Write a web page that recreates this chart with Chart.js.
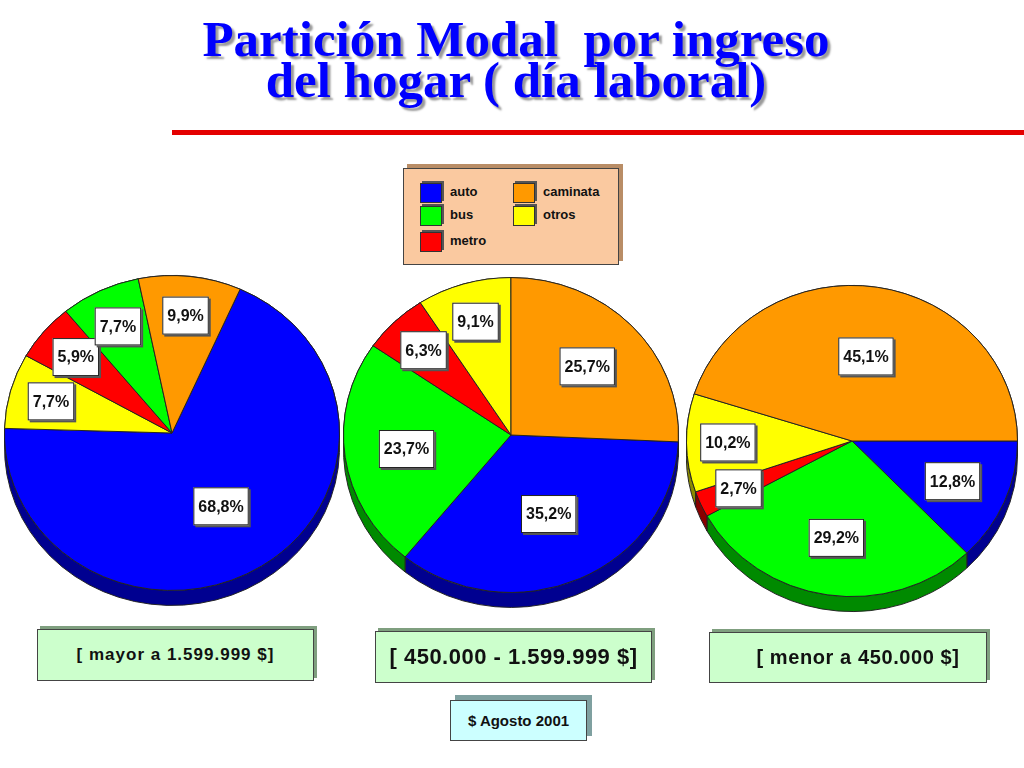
<!DOCTYPE html>
<html>
<head>
<meta charset="utf-8">
<script src="https://cdn.jsdelivr.net/npm/chart.js@4/dist/chart.umd.min.js"></script>
<style>
  body { margin: 0; background: #fff; }
  #page { position: relative; width: 1024px; height: 768px; overflow: hidden; font-family: "Comic Sans MS", "Liberation Sans", sans-serif; }
  .title { position: absolute; left: 0; width: 1032px; text-align: center; font-family: "Liberation Serif", serif; font-weight: bold;
           font-size: 51px; color: #0000ff; text-shadow: 3px 3px 2px #9a9a9a; white-space: pre; line-height: 41px; }
  #rule { position: absolute; left: 172px; top: 130px; width: 852px; height: 5px; background: #e40000; }
  .pie { position: absolute; }
  #legend { position: absolute; left: 403px; top: 168px; width: 214px; height: 95px; background: #fac9a0;
            border: 1px solid #444; box-shadow: 4px -4px 0 #b98d66; }
  .item { position: absolute; font-weight: bold; font-size: 13px; color: #111; }
  .item span.sw { position: absolute; left: 0; top: 0; width: 20px; height: 18px; border: 1px solid #333; box-shadow: 2px -2px 0 #555; }
  .item span.tx { position: absolute; left: 30px; top: 1px; }
  .group { position: absolute; background: #ccffcc; border: 1px solid #444; box-shadow: 3px -3px 0 #7f9f7f; box-sizing: border-box;
           display: flex; align-items: center; justify-content: center; font-weight: bold; color: #111; }
</style>
</head>
<body>
<div id="page">
  <div class="title" style="top:19px">Partición Modal  por ingreso</div>
  <div class="title" style="top:60px">del hogar ( día laboral)</div>
  <div id="rule"></div>
  <div id="legend"></div>
  <canvas id="pieHigh" class="pie"></canvas>
  <canvas id="pieMid" class="pie"></canvas>
  <canvas id="pieLow" class="pie"></canvas>
</div>
<script>
// categories (legend order) and shares per income group, in the order each pie is drawn clockwise
const categories = ['auto', 'bus', 'metro', 'caminata', 'otros'];

const highLabels = ['auto', 'otros', 'metro', 'bus', 'caminata'];
const highValues = [68.8, 7.7, 5.9, 7.7, 9.9];

const midLabels = ['auto', 'bus', 'metro', 'otros', 'caminata'];
const midValues = [35.2, 23.7, 6.3, 9.1, 25.7];

const lowLabels = ['auto', 'bus', 'metro', 'otros', 'caminata'];
const lowValues = [12.8, 29.2, 2.7, 10.2, 45.1];

const groupNames = ['[ mayor a 1.599.999 $]', '[ 450.000 - 1.599.999 $]', '[ menor a 450.000 $]'];
const noteText = '$ Agosto 2001';

const faceColors = { auto: '#0000ff', bus: '#00ff00', metro: '#ff0000', caminata: '#ff9900', otros: '#ffff00' };
const sideColors = { auto: '#000090', bus: '#008a00', metro: '#8a0000', caminata: '#8a5200', otros: '#8a8a00' };

const SQUASH = 0.94;
const DEPTH = 15;

// legend box
const legend = document.getElementById('legend');
const legendSpots = [[16, 14], [16, 37], [16, 63], [109, 14], [109, 37]];
categories.forEach((c, i) => {
    const el = document.createElement('div');
    el.className = 'item';
    el.style.left = legendSpots[i][0] + 'px';
    el.style.top = legendSpots[i][1] + 'px';
    el.innerHTML = `<span class="sw" style="background:${faceColors[c]}"></span><span class="tx">${c}</span>`;
    legend.appendChild(el);
});

// income group boxes
const page = document.getElementById('page');
const groupBoxes = [
    { left: 37, top: 629, w: 277, h: 52, size: 17, ls: 1, pad: 0 },
    { left: 375, top: 631, w: 277, h: 52, size: 22, ls: 0.5, pad: 0 },
    { left: 709, top: 632, w: 278, h: 51, size: 20, ls: 0.6, pad: 20 }
];
groupNames.forEach((g, i) => {
    const b = groupBoxes[i];
    const el = document.createElement('div');
    el.className = 'group';
    el.style.cssText = `left:${b.left}px;top:${b.top}px;width:${b.w}px;height:${b.h}px;font-size:${b.size}px;letter-spacing:${b.ls}px;padding-left:${b.pad}px`;
    el.textContent = g;
    page.appendChild(el);
});
const note = document.createElement('div');
note.className = 'group';
note.style.cssText = 'left:450px;top:700px;width:137px;height:41px;font-size:15px;background:#ccffff;box-shadow:5px -5px 0 #7fa0a0';
note.textContent = noteText;
page.appendChild(note);

const fmt = v => v.toFixed(1).replace('.', ',') + '%';
const labelDist = v => v >= 30 ? 0.55 : v >= 20 ? 0.63 : v >= 11 ? 0.66 : 0.75;

// fake 3D: squash the pie vertically and draw a darker rim below it
const pie3d = {
    id: 'pie3d',
    beforeDatasetsDraw(chart) {
        const ctx = chart.ctx;
        const arcs = chart.getDatasetMeta(0).data;
        const labels = chart.data.labels;
        const { x, y } = arcs[0];
        ctx.save();
        ctx.translate(x, y);
        ctx.scale(1, SQUASH);
        ctx.translate(-x, -y);
        const d = DEPTH / SQUASH;
        arcs.forEach((arc, i) => {
            const r = arc.outerRadius;
            ctx.beginPath();
            ctx.arc(x, y, r, arc.startAngle, arc.endAngle);
            ctx.arc(x, y + d, r, arc.endAngle, arc.startAngle, true);
            ctx.closePath();
            ctx.fillStyle = sideColors[labels[i]];
            ctx.fill();
            ctx.lineWidth = 1;
            ctx.strokeStyle = '#222';
            ctx.stroke();
        });
    },
    afterDatasetsDraw(chart) {
        chart.ctx.restore();
    },
    afterDraw(chart) {
        const ctx = chart.ctx;
        const arcs = chart.getDatasetMeta(0).data;
        const values = chart.data.datasets[0].data;
        ctx.save();
        ctx.font = 'bold 16px "Comic Sans MS", "Liberation Sans", sans-serif';
        ctx.textAlign = 'center';
        ctx.textBaseline = 'middle';
        arcs.forEach((arc, i) => {
            const mid = (arc.startAngle + arc.endAngle) / 2;
            const r = arc.outerRadius * labelDist(values[i]);
            const px = arc.x + Math.cos(mid) * r;
            const py = arc.y + Math.sin(mid) * r * SQUASH;
            const txt = fmt(values[i]);
            const w = ctx.measureText(txt).width + 10;
            const h = 38;
            ctx.fillStyle = '#555';
            ctx.fillRect(px - w / 2 + 2, py - h / 2 + 2, w, h);
            ctx.fillStyle = '#fff';
            ctx.fillRect(px - w / 2, py - h / 2, w, h);
            ctx.strokeStyle = '#222';
            ctx.lineWidth = 1;
            ctx.strokeRect(px - w / 2 + 0.5, py - h / 2 + 0.5, w - 1, h - 1);
            ctx.fillStyle = '#111';
            ctx.fillText(txt, px, py + 1);
        });
        ctx.restore();
    }
};

function makePie(id, labels, values, cx, cy, r, rotation) {
    const canvas = document.getElementById(id);
    canvas.style.left = (cx - r) + 'px';
    canvas.style.top = (cy - r) + 'px';
    canvas.style.width = (2 * r) + 'px';
    canvas.style.height = (2 * r + 24) + 'px';
    canvas.width = 2 * r;
    canvas.height = 2 * r + 24;
    new Chart(canvas.getContext('2d'), {
        type: 'pie',
        data: {
            labels: labels,
            datasets: [{
                data: values,
                backgroundColor: labels.map(l => faceColors[l]),
                borderColor: '#222',
                borderWidth: 1,
                clip: false
            }]
        },
        options: {
            responsive: false,
            animation: false,
            rotation: rotation,
            layout: { padding: { bottom: 24 } },
            plugins: { legend: { display: false }, tooltip: { enabled: false } }
        },
        plugins: [pie3d]
    });
}

makePie('pieHigh', highLabels, highValues, 172, 433, 168, 24);
makePie('pieMid', midLabels, midValues, 511, 435, 168, 92.5);
makePie('pieLow', lowLabels, lowValues, 852, 441, 166, 90);
</script>
</body>
</html>
